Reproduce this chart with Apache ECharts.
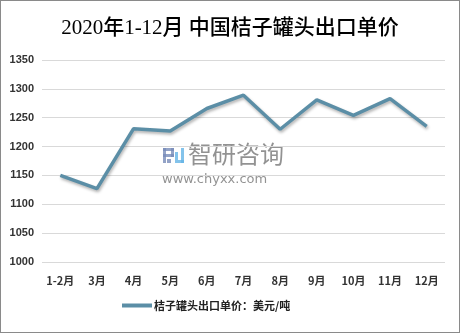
<!DOCTYPE html>
<html><head><meta charset="utf-8">
<script src="https://cdn.jsdelivr.net/npm/echarts@6/dist/echarts.min.js"></script>
<style>
html,body{margin:0;padding:0;background:#fff;}
#c{width:458px;height:331px;border:1px solid #8a8a8a;}
</style></head>
<body><div id="c"></div>
<script>
const titleText = '2020年1-12月 中国桔子罐头出口单价';
const categories = ['1-2月','3月','4月','5月','6月','7月','8月','9月','10月','11月','12月'];
const seriesName = '桔子罐头出口单价：美元/吨';
const values = [1150, 1127, 1231, 1227, 1266, 1289, 1230, 1281, 1254, 1283, 1235];
const yMin = 1000, yMax = 1350, yStep = 50;

const logoA = 'rgba(120,140,185,0.8)', logoB = 'rgba(100,180,230,0.8)';
const chart = echarts.init(document.getElementById('c'));
chart.setOption({
  animation: false,
  title: {
    text: titleText, left: 'center', top: 12,
    textStyle: {fontFamily: '"Liberation Serif","Noto Sans CJK SC",serif', fontSize: 21, fontWeight: 500, color: '#000'}
  },
  grid: {left: 41, right: 14, top: 59, bottom: 70},
  legend: {
    bottom: 16, left: 116,
    itemWidth: 30, itemHeight: 4, itemGap: 2,
    icon: 'rect',
    textStyle: {fontFamily: '"Noto Sans CJK SC",sans-serif', fontSize: 11, fontWeight: 'bold', color: '#222', padding: [0,0,0,-3]},
    data: [seriesName]
  },
  xAxis: {
    type: 'category', data: categories, boundaryGap: true,
    axisLine: {show: false}, axisTick: {show: false},
    axisLabel: {margin: 13, fontFamily: '"Noto Sans CJK SC",sans-serif', fontSize: 11, fontWeight: 'bold', color: '#333', interval: 0}
  },
  yAxis: {
    type: 'value', min: yMin, max: yMax, interval: yStep,
    axisLine: {show: false}, axisTick: {show: false},
    axisLabel: {margin: 8, formatter: v => String(v), fontFamily: '"Liberation Sans",sans-serif', fontSize: 11, fontWeight: 'bold', color: '#333'},
    splitLine: {lineStyle: {color: '#d9d9d9', width: 1}}
  },
  graphic: [
    {type: 'rect', shape: {x: 162, y: 147, width: 11, height: 3}, style: {fill: logoA}},
    {type: 'rect', shape: {x: 162, y: 147, width: 3, height: 15}, style: {fill: logoA}},
    {type: 'rect', shape: {x: 170, y: 147, width: 3, height: 9}, style: {fill: logoA}},
    {type: 'rect', shape: {x: 162, y: 153, width: 11, height: 3}, style: {fill: logoA}},
    {type: 'rect', shape: {x: 166, y: 158, width: 4, height: 4}, style: {fill: logoA}},
    {type: 'rect', shape: {x: 180, y: 147, width: 3, height: 15}, style: {fill: logoB}},
    {type: 'rect', shape: {x: 174, y: 159, width: 9, height: 3}, style: {fill: logoB}},
    {type: 'rect', shape: {x: 174, y: 151, width: 3, height: 8}, style: {fill: logoB}},
    {type: 'text', left: 187, top: 141, style: {text: '智研咨询', fontFamily: '"Noto Sans CJK SC",sans-serif', fontSize: 24, fill: 'rgba(110,110,110,0.75)', letterSpacing: 6}},
    {type: 'text', left: 161, top: 172, style: {text: 'www.chyxx.com', fontFamily: '"DejaVu Sans",sans-serif', fontSize: 13, fill: 'rgba(110,110,110,0.75)', letterSpacing: 2.5}}
  ],
  series: [{
    name: seriesName, type: 'line', data: values,
    symbol: 'none', smooth: false,
    lineStyle: {color: '#5b8ea6', width: 3.5, shadowColor: 'rgba(0,0,0,0.3)', shadowBlur: 3, shadowOffsetX: 1, shadowOffsetY: 2},
    itemStyle: {color: '#5b8ea6'}
  }]
});
</script></body></html>
